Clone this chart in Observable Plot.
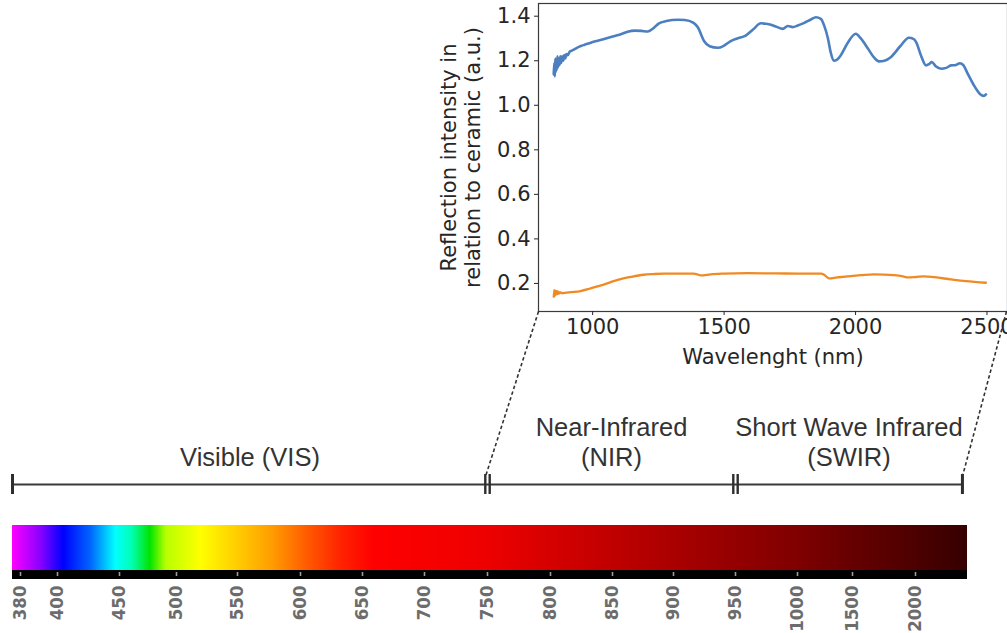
<!DOCTYPE html>
<html>
<head>
<meta charset="utf-8">
<script src="https://cdn.jsdelivr.net/npm/d3@7"></script>
<script src="https://cdn.jsdelivr.net/npm/@observablehq/plot@0.6"></script>
<style>
  html, body { margin: 0; padding: 0; background: #fff; }
  #fig { position: relative; width: 1007px; height: 633px; overflow: hidden; background: #fff; }
  #fig svg { position: absolute; left: 0; background: transparent; }
</style>
</head>
<body>
<div id="fig"></div>
<script>
// Reflection spectra relative to ceramic: [wavelength (nm), intensity (a.u.)]
const sampleA = [
  [852,1.14],[854,1.19],[856,1.13],[858,1.21],[860,1.15],[862,1.20],[864,1.16],[866,1.22],
  [868,1.17],[871,1.21],[874,1.18],[877,1.22],[880,1.19],[884,1.22],[888,1.20],[892,1.225],
  [896,1.21],[900,1.23],[906,1.225],[912,1.24],[920,1.245],[928,1.25],[940,1.258],[955,1.266],
  [970,1.272],[990,1.28],[1019,1.29],[1050,1.30],[1080,1.31],[1110,1.32],[1133,1.33],[1160,1.335],
  [1185,1.334],[1209,1.331],[1230,1.345],[1251,1.367],[1280,1.378],[1324,1.384],[1350,1.383],
  [1384,1.37],[1400,1.35],[1423,1.29],[1445,1.265],[1476,1.258],[1500,1.268],[1525,1.288],
  [1550,1.30],[1582,1.313],[1610,1.34],[1640,1.368],[1660,1.366],[1678,1.362],[1700,1.352],
  [1723,1.343],[1742,1.356],[1761,1.351],[1780,1.358],[1803,1.369],[1830,1.385],[1849,1.395],
  [1868,1.388],[1880,1.36],[1895,1.30],[1905,1.24],[1917,1.20],[1930,1.205],[1944,1.225],
  [1970,1.28],[2001,1.321],[2020,1.30],[2047,1.255],[2070,1.215],[2089,1.197],[2110,1.20],
  [2134,1.216],[2170,1.265],[2203,1.303],[2220,1.298],[2230,1.285],[2250,1.22],[2268,1.179],
  [2280,1.185],[2290,1.194],[2305,1.175],[2325,1.164],[2345,1.168],[2363,1.179],[2380,1.18],
  [2397,1.189],[2410,1.18],[2427,1.141],[2450,1.09],[2470,1.055],[2480,1.045],[2488,1.042],
  [2496,1.049]
];
const sampleB = [
  [852,0.14],[854,0.17],[856,0.145],[858,0.168],[861,0.15],[864,0.166],[867,0.152],[870,0.163],
  [874,0.155],[878,0.16],[885,0.156],[895,0.158],[916,0.161],[954,0.166],[985,0.175],[1019,0.187],
  [1050,0.198],[1080,0.21],[1110,0.22],[1145,0.229],[1194,0.239],[1230,0.242],[1270,0.244],
  [1384,0.244],[1395,0.242],[1411,0.236],[1449,0.241],[1500,0.244],[1590,0.246],[1700,0.245],
  [1780,0.244],[1868,0.244],[1882,0.238],[1898,0.223],[1930,0.227],[1971,0.232],[2020,0.237],
  [2070,0.241],[2146,0.237],[2180,0.232],[2199,0.227],[2230,0.229],[2260,0.232],[2300,0.228],
  [2363,0.218],[2420,0.21],[2496,0.203]
];
const spectraXTicks = [1000, 1500, 2000, 2500];
const spectraYTicks = [0.2, 0.4, 0.6, 0.8, 1.0, 1.2, 1.4];
const xTitle = "Wavelenght (nm)";
const yTitle = "Reflection intensity in\nrelation to ceramic (a.u.)";

// Spectral ranges along the electromagnetic bar
const rangeNames = ["Visible (VIS)", "Near-Infrared\n(NIR)", "Short Wave Infrared\n(SWIR)"];
const rangeBounds = [375, 750, 950, 2370];

// Wavelength bar: ticks and colour stops
const barExtent = [375, 2410];
const barTicks = [380, 400, 450, 500, 550, 600, 650, 700, 750, 800, 850, 900, 950, 1000, 1500, 2000];
const colorStops = [
  [375,"#ff00ff"],[391,"#8a00ff"],[405,"#0000ff"],[427,"#0066ff"],[447,"#00ffff"],[461,"#00ffb4"],
  [477,"#00e400"],[491,"#b8ff00"],[520,"#ffff00"],[547,"#ffd200"],[578,"#ff9c00"],[606,"#ff5a00"],
  [632,"#ff2400"],[659,"#ff0000"],[750,"#ee0000"],[800,"#d60000"],[850,"#c00000"],[900,"#aa0000"],
  [950,"#950000"],[1000,"#800000"],[1500,"#660000"],[2000,"#4d0000"],[2410,"#360000"]
];

// The bar axis is non-uniform: a piecewise linear scale through the tick marks
const barScale = {
  type: "linear",
  domain: [barExtent[0], ...barTicks, barExtent[1]],
  range: [12, 20, 57, 119, 176, 237, 300, 362, 424, 487, 550, 612, 673, 735, 797, 852, 915, 967]
};
const barX = Plot.scale({x: barScale});

const fig = document.getElementById("fig");
const W = 1007;

// ---- Spectra panel ----
const spectra = Plot.plot({
  width: W, height: 380,
  marginLeft: 538, marginRight: 0, marginTop: 3, marginBottom: 69,
  style: {background: "transparent", fontFamily: "'DejaVu Sans', sans-serif", fontSize: "21px", color: "#262626", overflow: "visible"},
  x: {domain: [794, 2578]},
  y: {domain: [0.074, 1.457]},
  marks: [
    Plot.frame({stroke: "#3a3a3a", strokeWidth: 1.2}),
    Plot.axisY(spectraYTicks, {tickSize: 4, tickPadding: 4, tickFormat: d3.format(".1f"), label: null, fontSize: 21}),
    Plot.axisX(spectraXTicks, {tickSize: 4, tickPadding: 4, tickFormat: d => String(d), label: null, fontSize: 21}),
    Plot.line(sampleB, {x: d => d[0], y: d => d[1], stroke: "#f08a24", strokeWidth: 2.3, curve: "monotone-x"}),
    Plot.line(sampleA, {x: d => d[0], y: d => d[1], stroke: "#4c7fc0", strokeWidth: 2.6, curve: "monotone-x"}),
    Plot.text([xTitle], {frameAnchor: "bottom", lineAnchor: "bottom", dy: 52, fontSize: 21}),
    Plot.text([yTitle], {frameAnchor: "left", textAnchor: "middle", rotate: -90, dx: -78, lineHeight: 1.15, fontSize: 21})
  ]
});
spectra.style.top = "0px";
fig.appendChild(spectra);

// ---- Range brackets ----
const rangesTop = 380;
const bracketX = i => barX.invert((barX.apply(rangeBounds[i]) + barX.apply(rangeBounds[i + 1])) / 2);
const outerBounds = [rangeBounds[0], rangeBounds[rangeBounds.length - 1]];
const innerBounds = rangeBounds.slice(1, -1);
const ranges = Plot.plot({
  width: W, height: 140,
  marginTop: 94, marginBottom: 26, marginLeft: 0, marginRight: 0,
  style: {background: "transparent", fontFamily: "'Liberation Sans', Arial, sans-serif", overflow: "visible"},
  x: {...barScale, axis: null},
  y: {domain: [-1, 1], axis: null},
  marks: [
    Plot.ruleY([0], {x1: outerBounds[0], x2: outerBounds[1], stroke: "#3a3a3a", strokeWidth: 2}),
    Plot.tickX(outerBounds, {stroke: "#2e2e2e", strokeWidth: 3}),
    Plot.tickX(innerBounds, {stroke: "#2e2e2e", strokeWidth: 2.4, dx: -2.2}),
    Plot.tickX(innerBounds, {stroke: "#2e2e2e", strokeWidth: 2.4, dx: 2.2}),
    Plot.text(rangeNames, {x: (d, i) => bracketX(i), frameAnchor: "top", lineAnchor: "bottom", dy: -9, fontSize: 25.5, lineHeight: 1.17, fill: "#333"})
  ]
});
ranges.style.top = rangesTop + "px";
fig.appendChild(ranges);

// ---- Wavelength colour bar ----
const barTop = 520;
const spectrum = Plot.plot({
  width: W, height: 113,
  marginTop: 5, marginBottom: 54, marginLeft: 0, marginRight: 0,
  style: {background: "transparent", fontFamily: "'DejaVu Sans Condensed', 'DejaVu Sans', sans-serif", fontStretch: "condensed", fontSize: "18px", overflow: "visible"},
  x: barScale,
  marks: [
    Plot.rect([barExtent], {x1: d => d[0], x2: d => d[1], insetBottom: 9, fill: "url(#spectrum-gradient)"}),
    Plot.rect([barExtent], {x1: d => d[0], x2: d => d[1], insetTop: 45, fill: "#000"}),
    Plot.tickX(barTicks, {stroke: "#9c9c9c", strokeWidth: 1.6, insetTop: 47, insetBottom: 3}),
    Plot.axisX(barTicks, {tickSize: 0, tickPadding: 6, tickRotate: -90, tickFormat: d => String(d), label: null, fill: "#6c6c6c", fontWeight: "bold", fontSize: 18.5})
  ]
});
// horizontal gradient whose stops follow the bar's own scale
{
  const x0 = barX.apply(barExtent[0]), x1 = barX.apply(barExtent[1]);
  const grad = d3.select(spectrum).insert("defs", ":first-child")
    .append("linearGradient")
    .attr("id", "spectrum-gradient")
    .attr("gradientUnits", "userSpaceOnUse")
    .attr("x1", x0).attr("x2", x1).attr("y1", 0).attr("y2", 0);
  for (const [w, c] of colorStops) {
    grad.append("stop").attr("offset", (barX.apply(w) - x0) / (x1 - x0)).attr("stop-color", c);
  }
}
spectrum.style.top = barTop + "px";
fig.appendChild(spectrum);

// ---- Dotted connectors from the spectra panel to the infrared ranges ----
const sx = spectra.scale("x"), sy = spectra.scale("y");
const ry = ranges.scale("y");
const capTop = rangesTop + ry.apply(1);
const connectors = [
  {x1: sx.apply(sx.domain[0]), y1: sy.apply(sy.domain[0]), x2: barX.apply(innerBounds[0]) - 2, y2: capTop + 2},
  {x1: sx.apply(sx.domain[1]) - 1, y1: sy.apply(sy.domain[0]), x2: barX.apply(outerBounds[1]), y2: capTop + 2}
];
const overlay = Plot.plot({
  width: W, height: 633, margin: 0,
  style: {background: "transparent", overflow: "visible"},
  x: {type: "identity", axis: null},
  y: {type: "identity", axis: null},
  marks: [
    Plot.link(connectors, {x1: "x1", y1: "y1", x2: "x2", y2: "y2", stroke: "#333", strokeWidth: 1.6, strokeDasharray: "3.5,2.5"})
  ]
});
overlay.style.top = "0px";
fig.appendChild(overlay);
</script>
</body>
</html>
